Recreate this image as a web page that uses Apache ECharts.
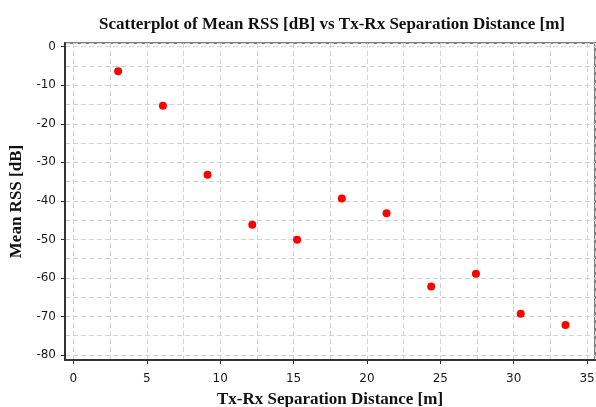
<!DOCTYPE html>
<html>
<head>
<meta charset="utf-8">
<script src="https://cdn.jsdelivr.net/npm/echarts@6/dist/echarts.min.js"></script>
<style>
html,body{margin:0;padding:0;background:#fff;}
#chart{width:596px;height:407px;}
</style>
</head>
<body>
<div id="chart"></div>
<script>
const distances = [3.05, 6.10, 9.14, 12.19, 15.24, 18.29, 21.34, 24.38, 27.43, 30.48, 33.53];
const meanRss = [-6.4, -15.3, -33.2, -46.2, -50.1, -39.4, -43.2, -62.2, -58.9, -69.3, -72.2];
const titleText = 'Scatterplot of Mean RSS [dB] vs Tx-Rx Separation Distance [m]';
const xName = 'Tx-Rx Separation Distance [m]';
const yName = 'Mean RSS [dB]';

const points = distances.map((d, i) => [d, meanRss[i]]);

const chart = echarts.init(document.getElementById('chart'), null, {renderer: 'canvas'});
const serif = '"Liberation Serif", "DejaVu Serif", serif';
const sans = '"DejaVu Sans", sans-serif';
const gridLine = {show: true, lineStyle: {color: '#d3d3d3', type: [5, 3], width: 1}};
chart.setOption({
  animation: false,
  backgroundColor: '#fff',
  title: {
    text: titleText,
    left: 327, top: 11, textAlign: 'center',
    textStyle: {fontFamily: serif, fontWeight: 'bold', fontSize: 17, color: '#111'}
  },
  grid: {left: 65, right: 1, top: 43, bottom: 47, show: true, borderColor: '#808080', borderWidth: 2,
         containLabel: false, outerBoundsMode: 'none'},
  xAxis: {
    type: 'value', min: -0.57, max: 35.54, splitNumber: 7,
    name: xName, nameLocation: 'middle', nameGap: 31,
    nameTextStyle: {fontFamily: serif, fontWeight: 'bold', fontSize: 17, color: '#111'},
    axisLine: {show: true, onZero: false, lineStyle: {color: '#333', width: 2}},
    axisTick: {show: true, length: 4, lineStyle: {color: '#333'}},
    axisLabel: {showMinLabel: false, showMaxLabel: false, fontFamily: sans, fontSize: 12, color: '#1a1a1a', margin: 13},
    splitLine: gridLine,
    minorTick: {show: false, splitNumber: 2},
    minorSplitLine: gridLine
  },
  yAxis: {
    type: 'value', min: -81.3, max: 0.96, splitNumber: 8,
    name: yName, nameLocation: 'middle', nameGap: 39, nameRotate: 90,
    nameTextStyle: {fontFamily: serif, fontWeight: 'bold', fontSize: 17, color: '#111'},
    axisLine: {show: true, onZero: false, lineStyle: {color: '#333', width: 2}},
    axisTick: {show: true, length: 4, lineStyle: {color: '#333'}},
    axisLabel: {showMinLabel: false, showMaxLabel: false, fontFamily: sans, fontSize: 12, color: '#1a1a1a', margin: 9},
    splitLine: gridLine,
    minorTick: {show: false, splitNumber: 2},
    minorSplitLine: gridLine
  },
  series: [{
    type: 'scatter',
    data: points,
    symbol: 'circle',
    symbolSize: 8,
    itemStyle: {color: '#ff0000', opacity: 1}
  }]
});
</script>
</body>
</html>
